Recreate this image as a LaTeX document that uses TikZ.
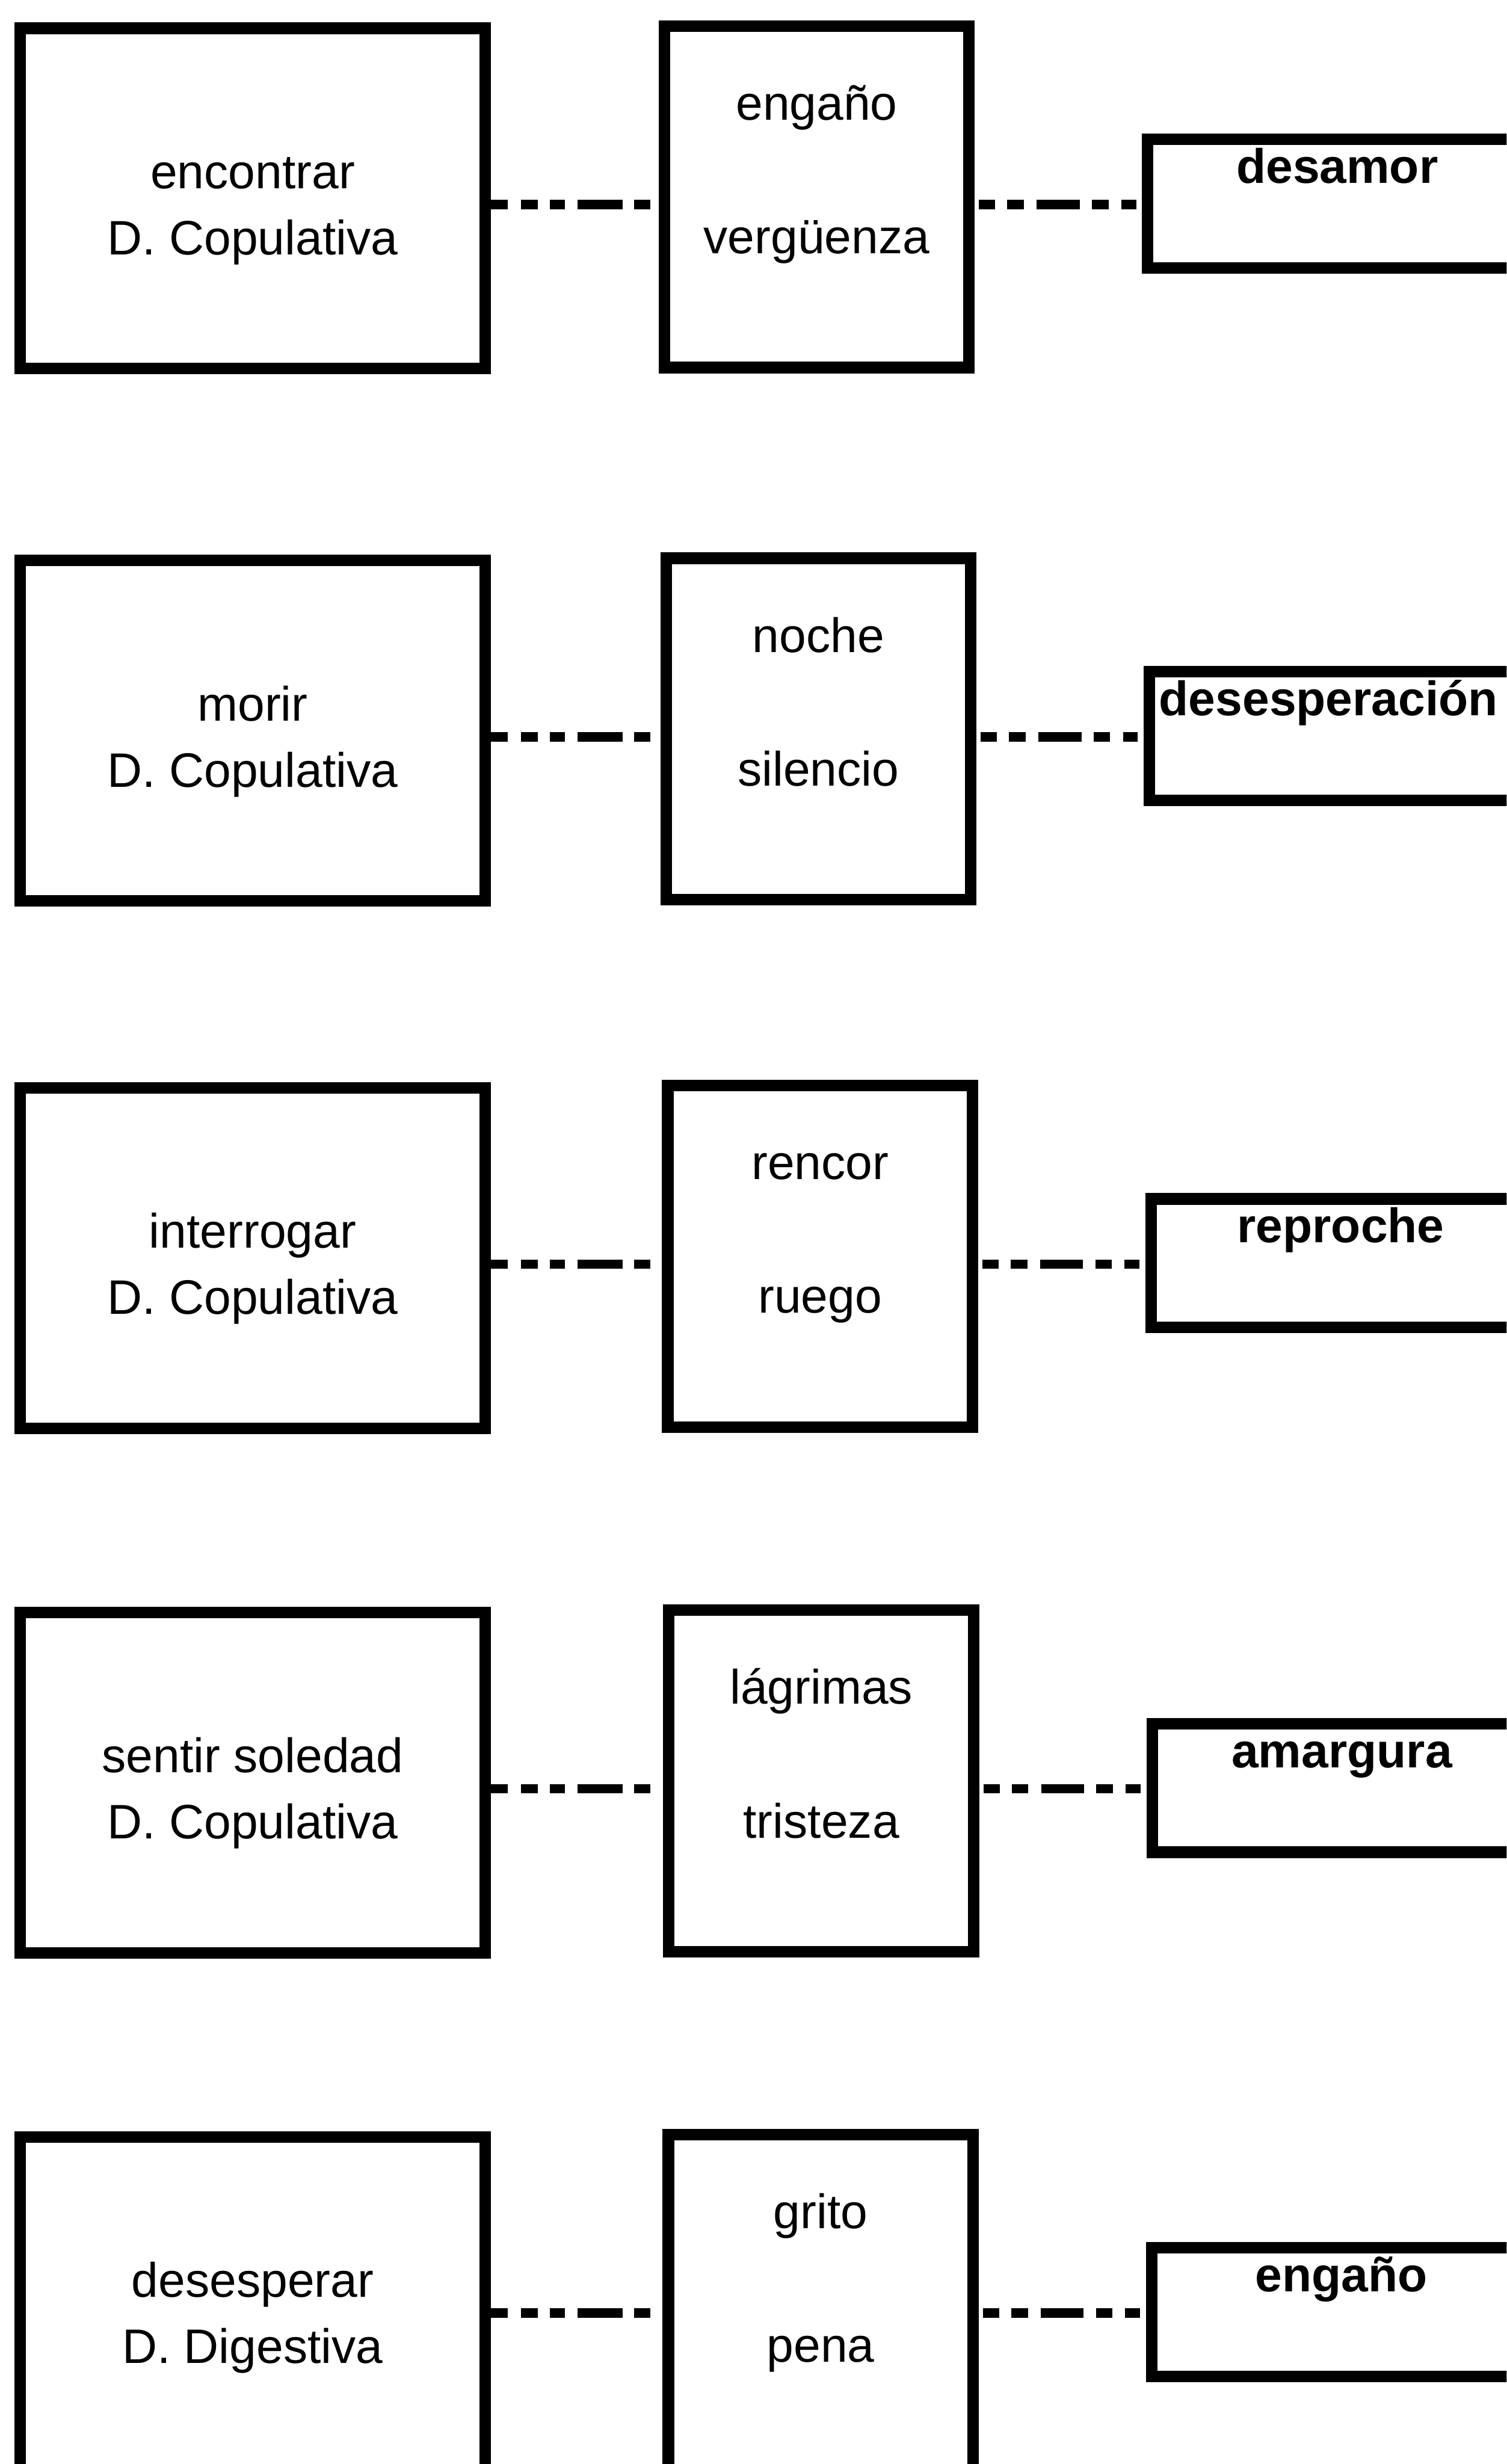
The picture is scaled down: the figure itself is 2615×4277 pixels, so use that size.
\documentclass[tikz,border=0pt]{standalone}
\usepackage{fontspec}
\setmainfont{Liberation Sans}

% One row of the scheme: verb box, images box, resulting emotion box.
% #1 row id, #2 vertical offset, #3 horizontal drift of the right-hand boxes,
% #4/#5 verb box lines, #6/#7 images box lines, #8 emotion, #9 emotion x shift
\newcommand{\emorow}[9]{%
  \node[leftbox] (L#1) at (438.5, 344.5+#2) {};
  \node[midbox]  (M#1) at (1417.5+#3, 341.5+#2) {};
  \node[resbox]  (R#1) at (2321+#3, 353.5+#2) {};
  \node[label] (L#1a) at (438.5, 327+#2) {#4};
  \node[label] (L#1b) at (438.5, 442+#2) {#5};
  \node[label] (M#1a) at (1417.5+#3, 208+#2) {#6};
  \node[label] (M#1b) at (1417.5+#3, 440+#2) {#7};
  \node[result] (R#1a) at (2321+#3+#9, 318+#2) {#8};
  \coordinate (k#1) at (0, 355+#2);
  \draw[linkA] (L#1.east |- k#1) -- (M#1.west |- k#1);
  \draw[linkB] (M#1.east |- k#1) -- (R#1.west |- k#1);
}

\begin{document}
\begin{tikzpicture}[x=1pt, y=-1pt,
  box/.style={draw=black, line width=20pt, outer sep=0pt, inner sep=0pt},
  leftbox/.style={box, minimum width=807pt, minimum height=591pt},
  midbox/.style={box, minimum width=529pt, minimum height=593pt},
  resbox/.style={box, minimum width=658pt, minimum height=223pt},
  label/.style={font=\fontsize{84}{100}\selectfont, anchor=base, inner sep=0pt},
  result/.style={font=\fontsize{84}{100}\selectfont\bfseries, anchor=base, inner sep=0pt},
  linkA/.style={line width=16pt,
    dash pattern=on 39pt off 23pt on 30pt off 20pt on 27pt off 21pt on 79pt off 20pt on 28pt off 22pt},
  linkB/.style={line width=16pt,
    dash pattern=on 28pt off 21pt on 29pt off 22pt on 75pt off 21pt on 29pt off 22pt on 26pt off 26pt,
    dash phase=282pt}
]
\useasboundingbox (0,0) rectangle (2615,4277);
\clip (0,0) rectangle (2615,4277);
\fill[white] (0,0) rectangle (2615,4277);

\emorow{1}{0}{0}{encontrar}{D. Copulativa}{engaño}{vergüenza}{desamor}{0}
\emorow{2}{924}{3}{morir}{D. Copulativa}{noche}{silencio}{desesperación}{-18}
\emorow{3}{1839}{6}{interrogar}{D. Copulativa}{rencor}{ruego}{reproche}{0}
\emorow{4}{2750}{8}{sentir soledad}{D. Copulativa}{lágrimas}{tristeza}{amargura}{0}
\emorow{5}{3660}{7}{desesperar}{D. Digestiva}{grito}{pena}{engaño}{0}
\end{tikzpicture}
\end{document}
